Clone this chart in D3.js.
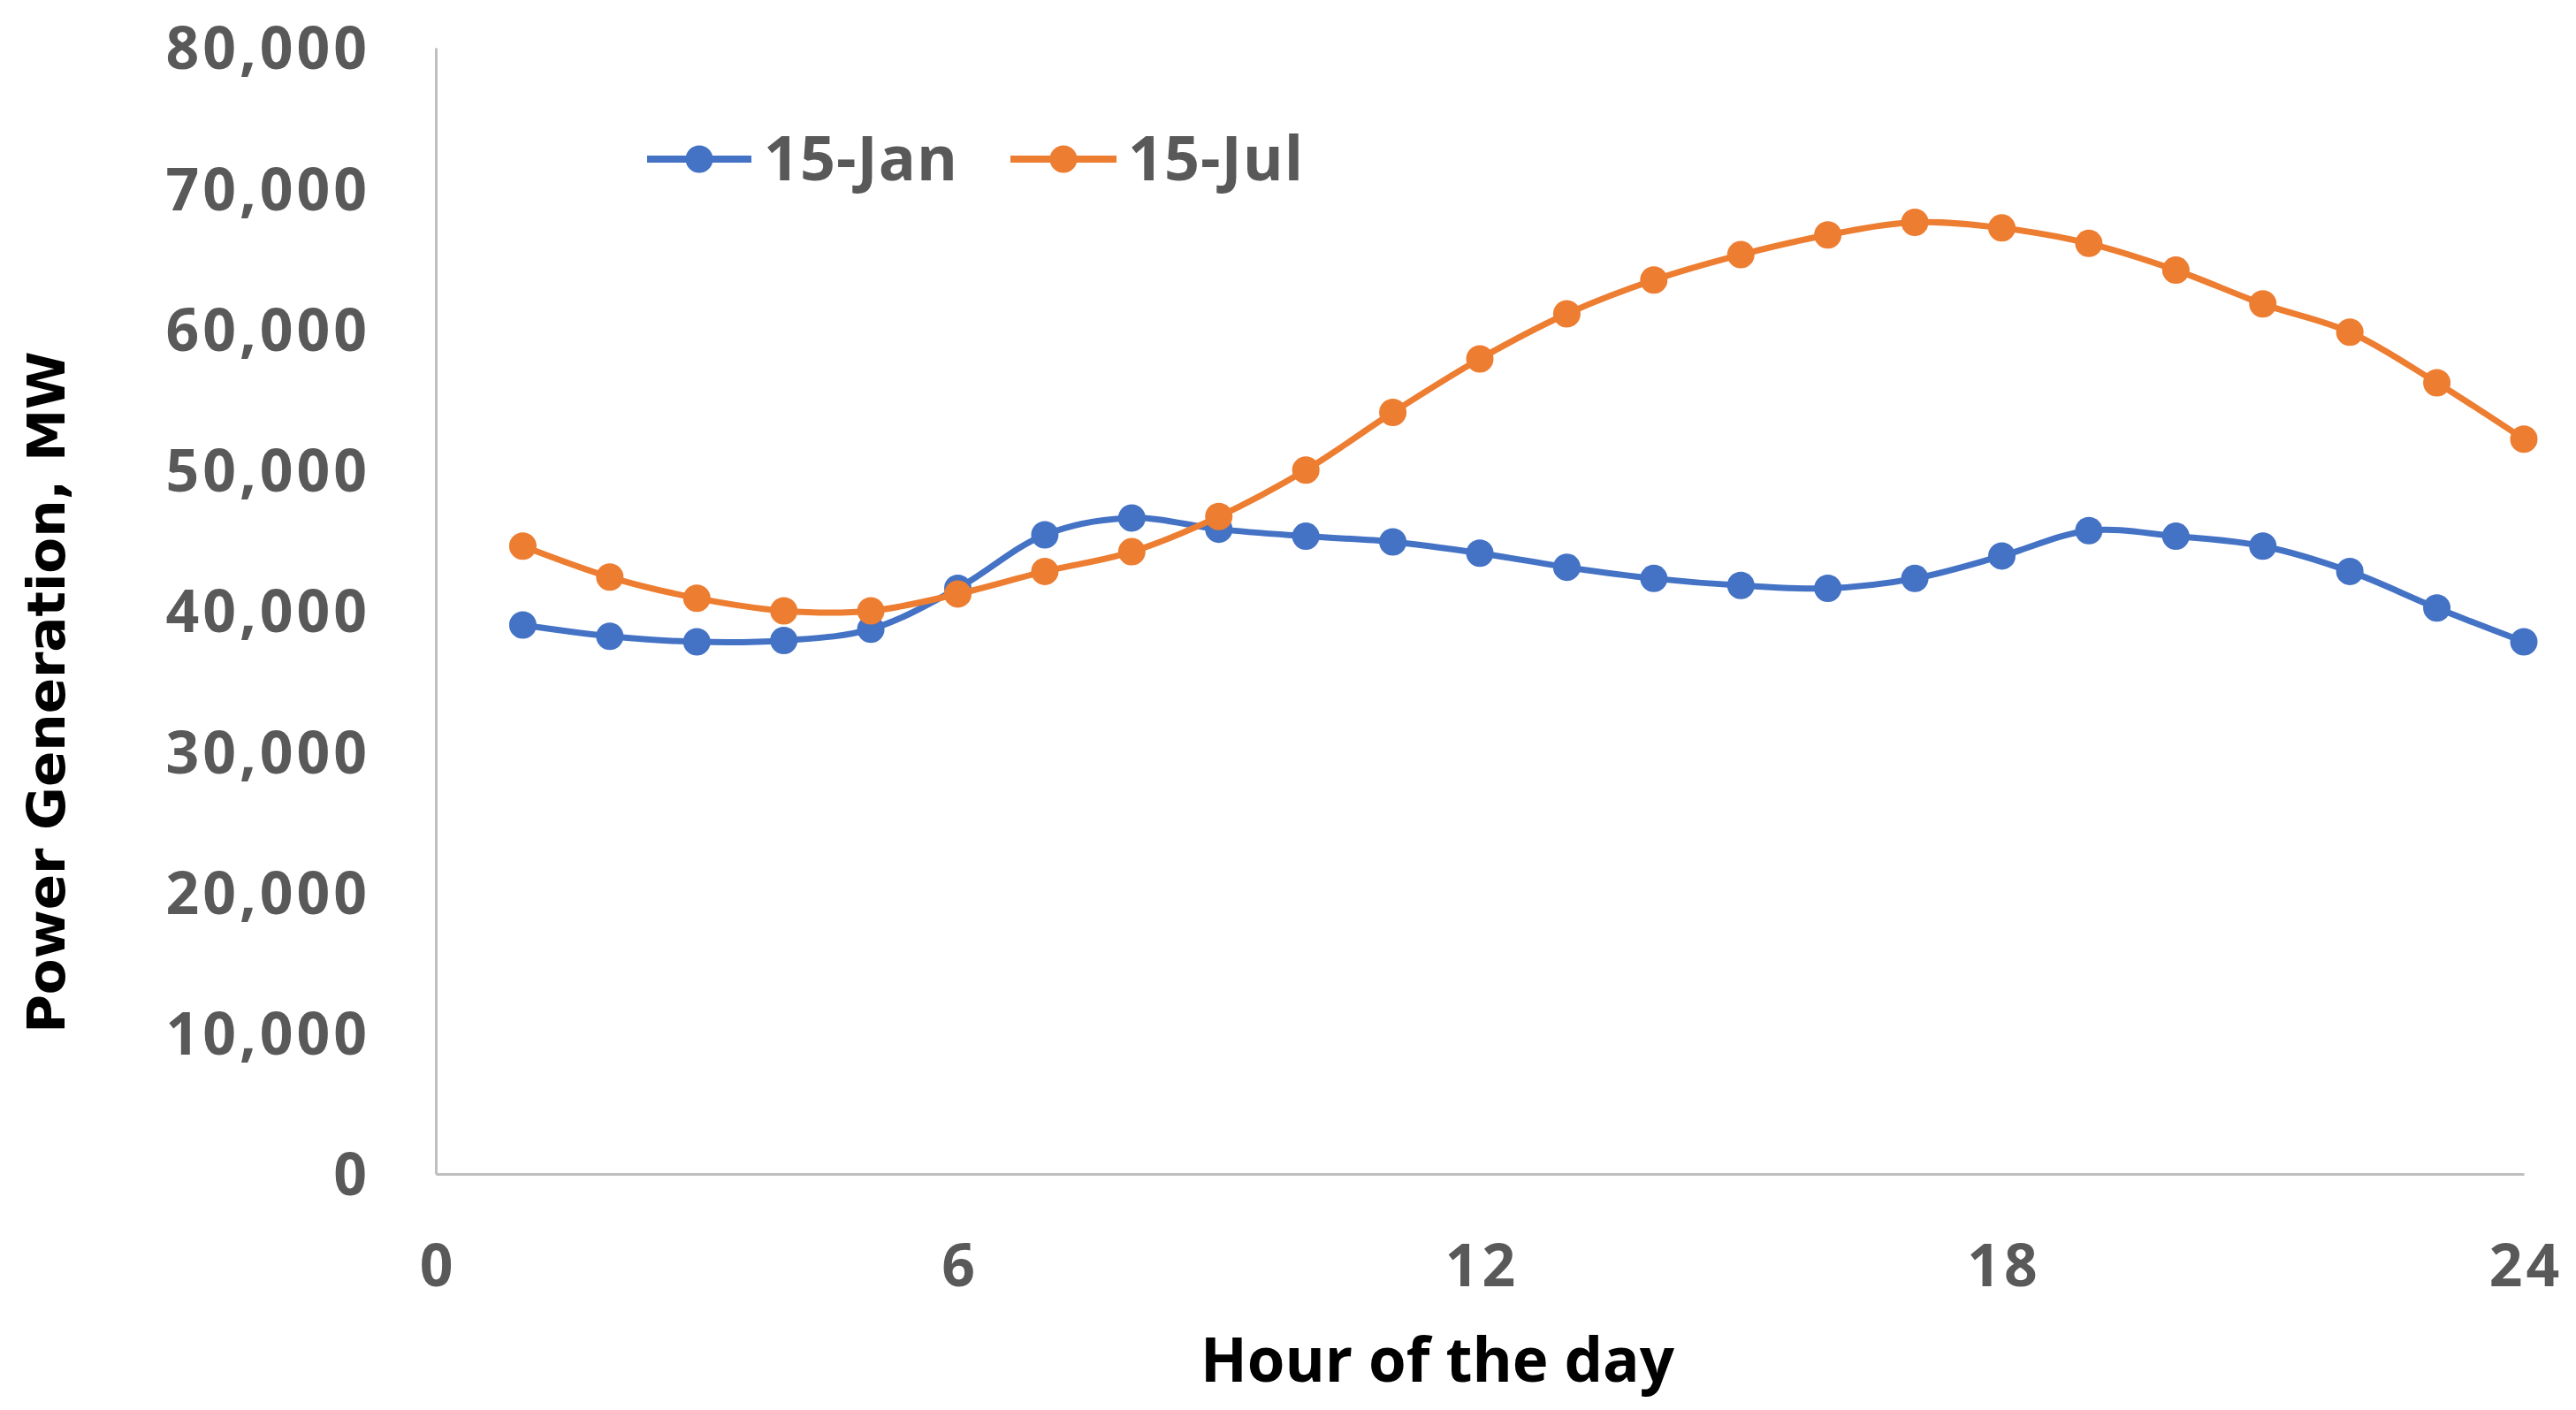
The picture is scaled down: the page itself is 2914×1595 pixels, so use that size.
<!DOCTYPE html>
<html>
<head>
<meta charset="utf-8">
<script src="https://cdn.jsdelivr.net/npm/d3@7"></script>
<style>
  html, body { margin: 0; padding: 0; background: #ffffff; }
  svg { display: block; }
</style>
</head>
<body>
<script>
// ---- Data ----
const hours = [1,2,3,4,5,6,7,8,9,10,11,12,13,14,15,16,17,18,19,20,21,22,23,24];
const jan15 = [39000,38200,37800,37900,38700,41600,45400,46600,45800,45300,44900,44100,
               43100,42300,41800,41600,42300,43900,45700,45300,44600,42800,40200,37800];
const jul15 = [44600,42400,40900,40000,40000,41200,42800,44200,46700,50000,54100,57900,
               61100,63500,65300,66700,67600,67200,66100,64200,61800,59800,56200,52200];
const seriesNames = ["15-Jan", "15-Jul"];
const xTicks = [0, 6, 12, 18, 24];
const yTicks = [0,10000,20000,30000,40000,50000,60000,70000,80000];
const xTitle = "Hour of the day";
const yTitle = "Power Generation, MW";

// ---- Layout ----
const W = 2914, H = 1595;
const plot = { left: 493, right: 2855, top: 54, bottom: 1328 };
const colors = ["#4472C4", "#ED7D31"];

const svg = d3.select("body").append("svg")
  .attr("width", W).attr("height", H)
  .attr("viewBox", `0 0 ${W} ${H}`);

const x = d3.scaleLinear().domain([0, 24]).range([plot.left, plot.right]);
const y = d3.scaleLinear().domain([0, 80000]).range([plot.bottom, plot.top]);

const fmt = d3.format(",");

// Y axis
const yAxis = svg.append("g")
  .attr("transform", `translate(${plot.left},0)`)
  .call(d3.axisLeft(y).tickValues(yTicks).tickFormat(fmt).tickSize(0).tickSizeOuter(0).tickPadding(74));
yAxis.select(".domain").attr("stroke", "#BFBFBF").attr("stroke-width", 3);
yAxis.selectAll(".tick text")
  .attr("font-family", "'Open Sans', sans-serif")
  .attr("font-weight", "bold")
  .attr("font-size", 66)
  .attr("letter-spacing", 4)
  .attr("fill", "#595959")
  .attr("dy", "0.36em");

// X axis
const xAxis = svg.append("g")
  .attr("transform", `translate(0,${plot.bottom})`)
  .call(d3.axisBottom(x).tickValues(xTicks).tickFormat(d3.format("d")).tickSize(0).tickSizeOuter(0).tickPadding(80));
xAxis.select(".domain").attr("stroke", "#BFBFBF").attr("stroke-width", 3);
xAxis.selectAll(".tick text")
  .attr("font-family", "'Open Sans', sans-serif")
  .attr("font-weight", "bold")
  .attr("font-size", 66)
  .attr("letter-spacing", 4)
  .attr("fill", "#595959")
  .attr("dx", 2)
  .attr("dy", "0.71em");

// Lines
const seriesData = [jan15, jul15];
const line = d3.line()
  .x((d, i) => x(hours[i]))
  .y(d => y(d))
  .curve(d3.curveCatmullRom.alpha(0.5));

seriesData.forEach((vals, si) => {
  const g = svg.append("g");
  g.append("path")
    .datum(vals)
    .attr("fill", "none")
    .attr("stroke", colors[si])
    .attr("stroke-width", 7)
    .attr("stroke-linejoin", "round")
    .attr("d", line);
  g.selectAll("circle")
    .data(vals)
    .join("circle")
    .attr("cx", (d, i) => x(hours[i]))
    .attr("cy", d => y(d))
    .attr("r", 15.5)
    .attr("fill", colors[si]);
});

// Legend
const legendItems = [
  { name: seriesNames[0], color: colors[0], x0: 732, x1: 850, tx: 864 },
  { name: seriesNames[1], color: colors[1], x0: 1143, x1: 1263, tx: 1276 }
];
const legY = 180;
legendItems.forEach(it => {
  const g = svg.append("g");
  g.append("line")
    .attr("x1", it.x0).attr("x2", it.x1)
    .attr("y1", legY).attr("y2", legY)
    .attr("stroke", it.color).attr("stroke-width", 8);
  g.append("circle")
    .attr("cx", (it.x0 + it.x1) / 2).attr("cy", legY)
    .attr("r", 15.5).attr("fill", it.color);
  g.append("text")
    .attr("x", it.tx).attr("y", 204)
    .attr("font-family", "'Open Sans', sans-serif")
    .attr("font-weight", "bold")
    .attr("font-size", 70)
    .attr("letter-spacing", 1)
    .attr("fill", "#595959")
    .text(it.name);
});

// Axis titles
svg.append("text")
  .attr("x", 1626).attr("y", 1563)
  .attr("text-anchor", "middle")
  .attr("font-family", "'Open Sans', sans-serif")
  .attr("font-weight", "bold")
  .attr("font-size", 69)
  .attr("fill", "#000000")
  .text(xTitle);

svg.append("text")
  .attr("transform", "translate(73,783) rotate(-90)")
  .attr("text-anchor", "middle")
  .attr("font-family", "'DejaVu Sans', sans-serif")
  .attr("font-weight", "bold")
  .attr("font-size", 59.5)
  .attr("fill", "#000000")
  .text(yTitle);
</script>
</body>
</html>
